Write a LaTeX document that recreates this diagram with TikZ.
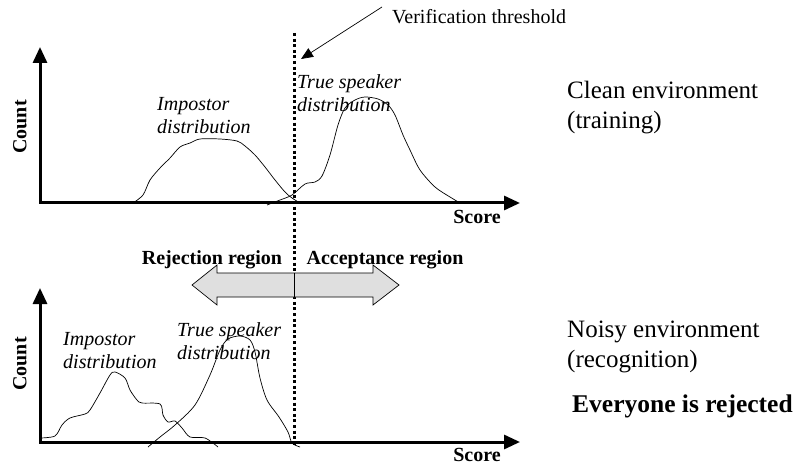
\documentclass[tikz,border=0pt]{standalone}
\usepackage{fontspec}
\setmainfont{Liberation Serif}
\usetikzlibrary{arrows.meta}

\begin{document}
\begin{tikzpicture}[x=1pt, y=-1pt,
  axis/.style={line width=3pt, {Triangle[length=16pt,width=14pt]}-{Triangle[length=16pt,width=14pt]}},
  curve/.style={line width=0.7pt},
  thresh/.style={line width=3pt, dash pattern=on 3pt off 2.6pt},
  pointer/.style={line width=0.7pt, -{Triangle[length=12pt,width=10pt]}},
  distlbl/.style={inner sep=0pt, anchor=west, align=left, font=\fontsize{20}{23}\selectfont\itshape},
  axlbl/.style={inner sep=0pt, font=\fontsize{20}{23}\selectfont\bfseries},
  envlbl/.style={inner sep=0pt, anchor=west, align=left, font=\fontsize{25}{30}\selectfont}]
\useasboundingbox (0,0) rectangle (798,465);

% top plot: clean environment
\coordinate (o1) at (40,203);
\coordinate (ytop1) at (40,47);
\coordinate (xend1) at (520,203);
\draw[axis] (ytop1) -- (o1) -- (xend1);
\node[axlbl, rotate=90] (count1) at (20,127) {Count};
\node[axlbl] (score1) at (477,217) {Score};

\draw[curve] plot[smooth, tension=0.5] coordinates {(133,203) (143,195) (150,180) (160,168) (170,158) (180,147) (190,143) (200,139) (220,139) (237,141) (245,146) (255,155) (265,167) (275,180) (285,192) (292,198) (300,203)};
\draw[curve] plot[smooth, tension=0.5] coordinates {(267,205) (280,200) (292,195) (305,184) (315,182) (322,176) (330,155) (338,125) (345,108) (355,100) (365,97) (378,99) (388,105) (395,115) (403,135) (410,150) (420,170) (435,187) (450,197) (460,203)};

\node[distlbl] (imp1) at (157,116) {Impostor\\distribution};
\node[distlbl] (true1) at (297,93) {True speaker\\distribution};
\node[envlbl] (clean) at (567,108) {Clean environment\\(training)};

% threshold
\coordinate (th1) at (294,33);
\coordinate (th2) at (294,446);
\draw[thresh] (th1) -- (th2);
\node[inner sep=0pt, anchor=west, font=\fontsize{20}{23}\selectfont] (verif) at (392,17) {Verification threshold};
\coordinate (vstart) at (382,7);
\coordinate (vtip) at (301,59);
\draw[pointer] (vstart) -- (vtip);

% regions
\draw[line width=0.7pt, fill=gray!25] (192,285) -- (217,265) -- (217,273) -- (373,273) -- (373,265) -- (399,285)
  -- (373,305) -- (373,297) -- (217,297) -- (217,305) -- cycle;
\draw[line width=0.7pt] (294,273) -- (294,297);
\node[axlbl] (rej) at (212,260) {Rejection region};
\node[axlbl] (acc) at (385,260) {Acceptance region};

% bottom plot: noisy environment
\coordinate (o2) at (40,442);
\coordinate (ytop2) at (40,288);
\coordinate (xend2) at (520,442);
\draw[axis] (ytop2) -- (o2) -- (xend2);
\node[axlbl, rotate=90] (count2) at (20,364) {Count};
\node[axlbl] (score2) at (477,455) {Score};

\draw[curve] plot[smooth, tension=0.5] coordinates {(40,438) (55,436) (62,425) (70,418) (85,414) (90,410) (100,393) (110,375) (115,372) (125,378) (130,390) (137,400) (142,403) (160,404) (163,415) (168,422) (175,421) (182,428) (190,437) (205,438) (218,447)};
\draw[curve] plot[smooth, tension=0.5] coordinates {(148,447) (160,437) (175,425) (195,405) (210,375) (220,350) (228,339) (240,336) (250,340) (255,352) (260,378) (267,400) (279,417) (288,432) (292,443) (300,447)};

\node[distlbl] (imp2) at (63,351) {Impostor\\distribution};
\node[distlbl] (true2) at (177,341) {True speaker\\distribution};
\node[envlbl] (noisy) at (567,347) {Noisy environment\\(recognition)};
\node[envlbl, font=\fontsize{25.5}{30}\selectfont\bfseries] (everyone) at (572,406) {Everyone is rejected};

\end{tikzpicture}
\end{document}
